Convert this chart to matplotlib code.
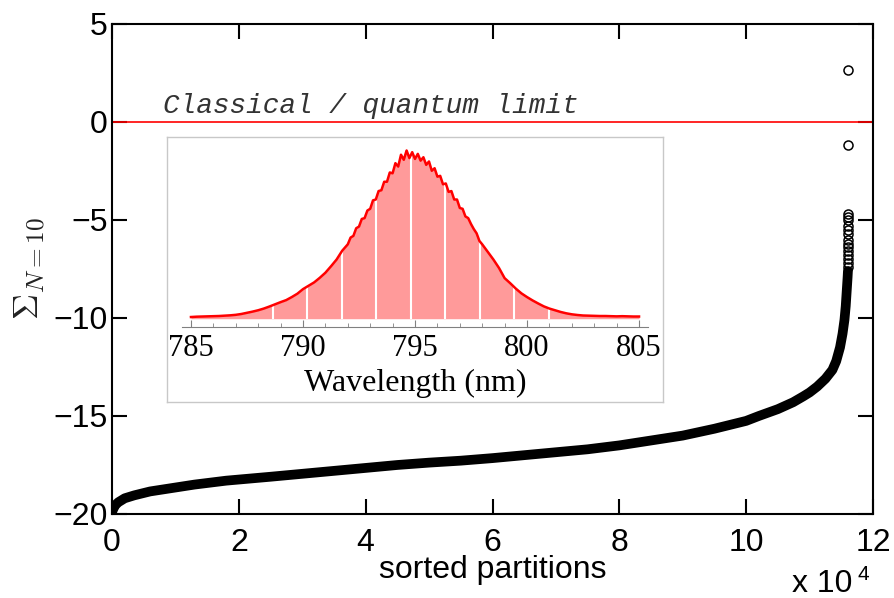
import matplotlib
matplotlib.use("Agg")
import matplotlib.pyplot as plt
import numpy as np
from matplotlib.ticker import MultipleLocator

plt.rcParams["mathtext.fontset"] = "cm"

# main curve: sorted partitions (units of 1e4) vs Sigma_{N=10}
part_x = [0, 0.02, 0.05, 0.1, 0.2, 0.35, 0.6, 0.9, 1.3, 1.8, 2.5, 3, 3.5, 4,
          4.5, 5, 5.5, 6, 6.5, 7, 7.5, 8, 8.5, 9, 9.5, 10, 10.2, 10.5, 10.74,
          10.9, 11.0, 11.12, 11.25, 11.36, 11.42, 11.48, 11.52, 11.55, 11.57,
          11.58, 11.6, 11.605]
part_y = [-19.9, -19.75, -19.55, -19.4, -19.2, -19.05, -18.85, -18.7, -18.5,
          -18.3, -18.1, -17.95, -17.8, -17.65, -17.5, -17.38, -17.28, -17.15,
          -17.0, -16.85, -16.7, -16.5, -16.25, -16.0, -15.65, -15.25, -15.0,
          -14.65, -14.3, -14.0, -13.8, -13.5, -13.1, -12.65, -12.2, -11.5,
          -10.8, -10.1, -9.4, -8.9, -7.9, -7.6]
# sparse tail points
tail_x = [11.61] * 16
tail_y = [2.65, -1.17, -4.72, -4.85, -5.0, -5.3, -5.5, -5.7, -6.0, -6.2,
          -6.4, -6.6, -6.8, -7.0, -7.2, -7.4]

# inset spectrum
wl = [785.00, 785.25, 785.50, 785.75, 786.00, 786.25, 786.50, 786.75,
      787.00, 787.25, 787.50, 787.75, 788.00, 788.25, 788.50, 788.75,
      789.00, 789.25, 789.50, 789.75, 790.00, 790.25, 790.50, 790.75,
      791.00, 791.25, 791.50, 791.75,
      792.000, 792.125, 792.250, 792.375, 792.500, 792.625, 792.750, 792.875,
      793.000, 793.125, 793.250, 793.375, 793.500, 793.625, 793.750, 793.875,
      794.000, 794.125, 794.250, 794.375, 794.500, 794.625, 794.750, 794.875,
      795.000, 795.125, 795.250, 795.375, 795.500, 795.625, 795.750, 795.875,
      796.000, 796.125, 796.250, 796.375, 796.500, 796.625, 796.750, 796.875,
      797.000, 797.125, 797.250, 797.375, 797.500, 797.625, 797.750, 797.875,
      798.00, 798.25, 798.50, 798.75,
      799.00, 799.25, 799.50, 799.75, 800.00, 800.25, 800.50, 800.75,
      801.00, 801.25, 801.50, 801.75, 802.00, 802.25, 802.50, 802.75,
      803.00, 803.25, 803.50, 803.75, 804.00, 804.25, 804.50, 804.75, 805.00]
spec = [0.000, 0.002, 0.003, 0.004, 0.005, 0.006, 0.008, 0.010,
        0.013, 0.018, 0.025, 0.032, 0.040, 0.050, 0.062, 0.075,
        0.088, 0.100, 0.118, 0.138, 0.165, 0.185, 0.205, 0.232,
        0.262, 0.300, 0.340, 0.392,
        0.430, 0.470, 0.480, 0.525, 0.535, 0.580, 0.585, 0.630,
        0.640, 0.690, 0.695, 0.745, 0.750, 0.800, 0.800, 0.855,
        0.850, 0.910, 0.890, 0.960, 0.930, 0.985, 0.940, 0.975,
        0.935, 0.965, 0.925, 0.945, 0.900, 0.920, 0.865, 0.880,
        0.830, 0.835, 0.785, 0.790, 0.740, 0.745, 0.695, 0.695,
        0.645, 0.640, 0.595, 0.585, 0.550, 0.520, 0.495, 0.450,
        0.430, 0.385, 0.340, 0.290,
        0.230, 0.200, 0.168, 0.140, 0.118, 0.098, 0.080, 0.063,
        0.050, 0.040, 0.030, 0.022, 0.016, 0.012, 0.009, 0.008,
        0.007, 0.006, 0.006, 0.005, 0.004, 0.005, 0.004, 0.003, 0.003]
grid_wl = [788.66, 790.18, 791.72, 793.27, 794.81, 796.36, 797.91, 799.44, 800.96]

sans = "Liberation Sans"

fig = plt.figure(figsize=(8.94, 5.98), dpi=100)
ax = fig.add_axes([0.1253, 0.1405, 0.8512, 0.8194])

ax.plot(part_x, part_y, color="black", lw=7, solid_capstyle="round",
        solid_joinstyle="round", zorder=3)
ax.plot(tail_x, tail_y, "o", mfc="none", mec="black", ms=6.5, mew=1.1, zorder=3)
ax.axhline(0, color="red", lw=1.2, zorder=2)
ax.text(0.8, 0.45, "Classical / quantum limit", family="Liberation Mono",
        style="italic", fontsize=20, va="baseline", color="#333333")

ax.set_xlim(0, 12)
ax.set_ylim(-20, 5)
ax.set_xticks(np.arange(0, 13, 2))
ax.set_yticks(np.arange(-20, 6, 5))
ax.tick_params(direction="in", length=11, width=1.5, top=True, right=True,
               labelsize=23)
ax.tick_params(axis="x", pad=10)
ax.tick_params(axis="y", pad=3)
for lab in ax.get_xticklabels() + ax.get_yticklabels():
    lab.set_family(sans)
for s in ax.spines.values():
    s.set_linewidth(1.5)

ax.set_xlabel("sorted partitions", family=sans, fontsize=23, labelpad=-2)
ax.set_ylabel(r"$\Sigma_{N=10}$", fontsize=26, color="#222222", labelpad=4)

fig.text(792 / 894, 0.01, "x 10", family=sans, fontsize=23, va="baseline")
fig.text(857 / 894, 1 - 580 / 598, "4", family=sans, fontsize=15, va="baseline")

# inset frame
frame = fig.add_axes([167 / 894, 1 - 402 / 598, 496 / 894, 265 / 598])
frame.set_xticks([])
frame.set_yticks([])
for s in frame.spines.values():
    s.set_color("#c8c8c8")
    s.set_linewidth(1)

ins = fig.add_axes([182 / 894, 1 - 327 / 598, 466 / 894, 187 / 598])
ins.patch.set_alpha(0)
ins.fill_between(wl, -0.01, spec, color="#ff9a9a", lw=0, zorder=1)
ins.vlines(grid_wl, -0.01, 1.2, color="white", lw=1.5, zorder=2)
ins.fill_between(wl, spec, 1.2, color="white", lw=0, zorder=3)
ins.plot(wl, spec, color="red", lw=1.8, zorder=4)
ins.set_xlim(784.6, 805.4)
ins.set_ylim(-0.059, 1.047)
ins.set_yticks([])
for side in ["top", "left", "right"]:
    ins.spines[side].set_visible(False)
ins.spines["bottom"].set_color("#808080")
ins.spines["bottom"].set_linewidth(0.8)
ins.xaxis.set_major_locator(MultipleLocator(5))
ins.xaxis.set_minor_locator(MultipleLocator(1))
ins.tick_params(axis="x", which="major", direction="in", length=5, width=0.8,
                color="#808080", labelsize=22, pad=5)
ins.tick_params(axis="x", which="minor", direction="in", length=3, width=0.6,
                color="#808080")
for lab in ins.get_xticklabels():
    lab.set_family("Liberation Serif")
ins.set_xlabel("Wavelength (nm)", family="Liberation Serif", fontsize=23,
               labelpad=4)

fig.savefig("out.png", dpi=100)
